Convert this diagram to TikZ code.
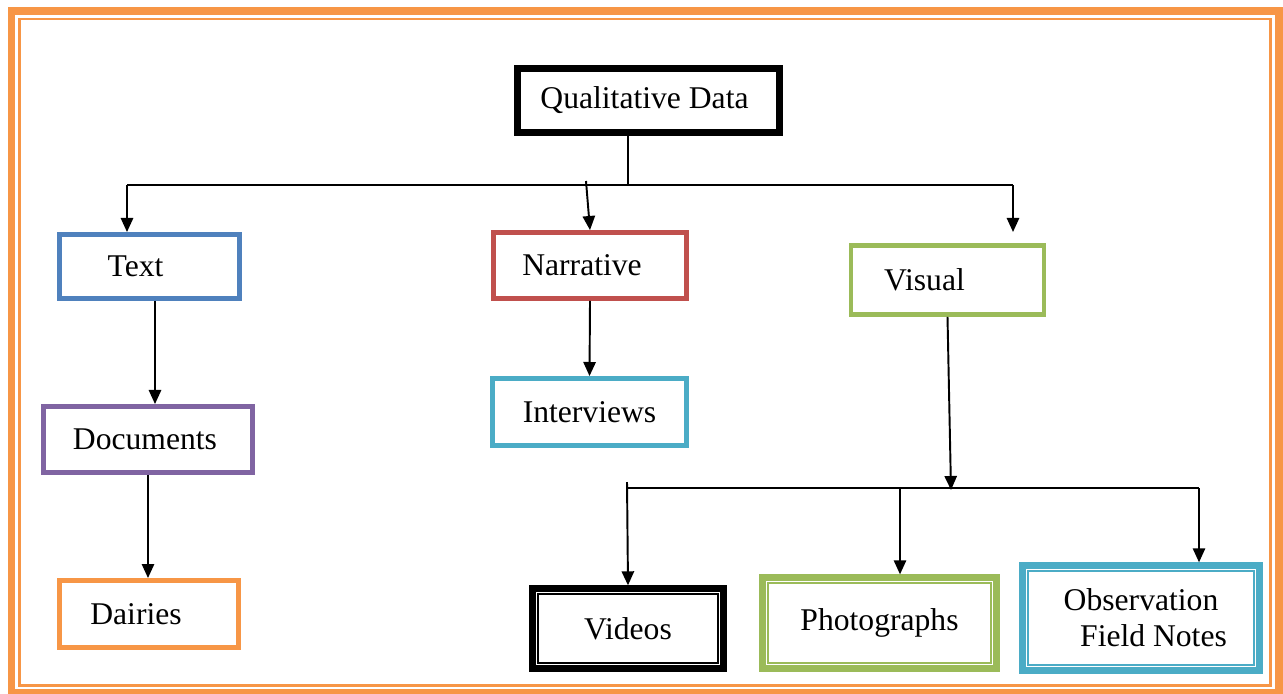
\documentclass[tikz,border=0pt]{standalone}
\usepackage{fontspec}
\setmainfont{Liberation Serif}
\usetikzlibrary{arrows.meta}

\definecolor{qblue}{HTML}{4F81BD}
\definecolor{qred}{HTML}{C0504D}
\definecolor{qgreen}{HTML}{9BBB59}
\definecolor{qcyan}{HTML}{4BACC6}
\definecolor{qpurple}{HTML}{8064A2}
\definecolor{qorange}{HTML}{F79646}

\tikzset{
  box/.style={draw=#1, line width=2.8pt, rectangle, inner sep=0pt,
    font=\fontsize{18}{20.5}\selectfont},
  dblbox/.style={draw=#1, line width=3.6pt, rectangle, inner sep=0pt,
    font=\fontsize{18}{20.5}\selectfont, align=center,
    path picture={\draw[#1, line width=1.1pt]
      ([shift={(0.11cm,-0.11cm)}]path picture bounding box.north west) rectangle
      ([shift={(-0.11cm,0.11cm)}]path picture bounding box.south east);}},
  pushleft/.style={execute at begin node={\hspace*{-#1}}},
  line/.style={line width=1pt},
  arr/.style={line width=1.1pt, -{Triangle[width=7pt,length=8pt]}}
}

\begin{document}
\begin{tikzpicture}[x=0.02cm, y=-0.02cm]
    \useasboundingbox (0,0) rectangle (1283,693);
    % page frame
    \draw[qorange, line width=4.4pt] (11.5,11) rectangle (1279,693);
    \draw[qorange, line width=1.4pt] (19.5,19) rectangle (1270.5,685.5);

    \node[box=black, line width=4pt, minimum width=5.24cm, minimum height=1.28cm, pushleft=0.16cm] (qual) at (648.5,100.5) {Qualitative Data};
    \node[box=qblue, minimum width=3.6cm, minimum height=1.28cm, pushleft=0.56cm] (text) at (149.5,266.5) {Text};
    \node[box=qred, minimum width=3.86cm, minimum height=1.32cm, pushleft=0.32cm] (narr) at (590,265.5) {Narrative};
    \node[box=qgreen, minimum width=3.86cm, minimum height=1.38cm, pushleft=0.92cm] (visual) at (947.5,280) {Visual};
    \node[box=qcyan, minimum width=3.88cm, minimum height=1.34cm] (interv) at (589.5,412) {Interviews};
    \node[box=qpurple, minimum width=4.18cm, minimum height=1.32cm, pushleft=0.12cm] (docs) at (148,439.5) {Documents};
    \node[box=qorange, minimum width=3.58cm, minimum height=1.34cm, pushleft=0.52cm] (dairies) at (149,614) {Dairies};
    \node[dblbox=black, minimum width=3.82cm, minimum height=1.6cm] (videos) at (628,628.5) {Videos};
    \node[dblbox=qgreen, minimum width=4.68cm, minimum height=1.82cm] (photo) at (879.5,623) {Photographs};
    \node[dblbox=qcyan, minimum width=4.74cm, minimum height=2.1cm] (obs) at (1141,618) {Observation\\ \hspace*{0.5cm}Field Notes};

    \coordinate (qsplit) at (628,185);
    \coordinate (lft) at (127,185);
    \coordinate (rgt) at (1013,185);
    \coordinate (rgtend) at (1013,232);
    \coordinate (nstart) at (586,181);
    \coordinate (vsplit) at (951,490);
    \coordinate (bl) at (627,488);
    \coordinate (bltop) at (627,482);
    \coordinate (bm) at (900,488);
    \coordinate (br) at (1199,488);

    \draw[line] (qual.south -| qsplit) -- (qsplit);
    \draw[line] (lft) -- (rgt);
    \draw[arr] (lft) -- (lft |- text.north);
    \draw[arr] (nstart) -- (narr.north);
    \draw[arr] (rgt) -- (rgtend);
    \draw[arr] ([xshift=0.11cm]text.south) -- ([xshift=0.11cm]text.south |- docs.north);
    \draw[arr] (narr.south) -- (interv.north);
    \draw[arr] (docs.south) -- (docs.south |- dairies.north);
    \draw[arr] (visual.south) -- (vsplit);
    \draw[line] (bl) -- (br);
    \draw[arr] (bltop) -- (videos.north);
    \draw[arr] (bm) -- (bm |- photo.north);
    \draw[arr] (br) -- (br |- obs.north);
\end{tikzpicture}
\end{document}
